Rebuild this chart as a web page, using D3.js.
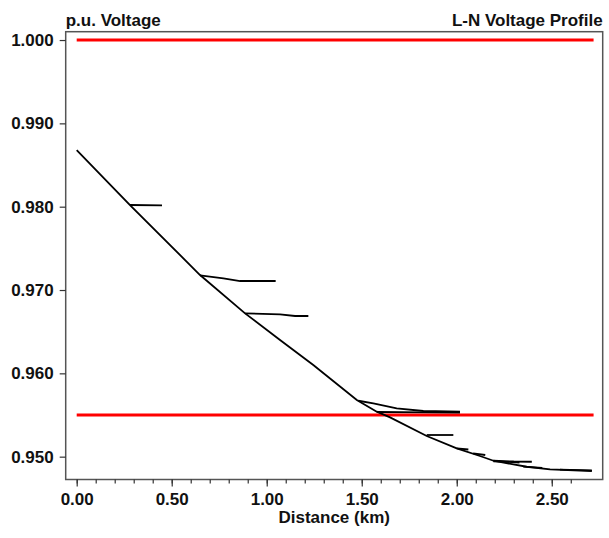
<!DOCTYPE html>
<html>
<head>
<meta charset="utf-8">
<script src="https://cdn.jsdelivr.net/npm/d3@7"></script>
<style>
  html, body { margin: 0; padding: 0; background: #fff; }
  svg text { font-family: "Liberation Sans", Arial, sans-serif; font-weight: bold; fill: #111; }
</style>
</head>
<body>
<div id="chart"></div>
<script>
// ---- Data ----
const xTicks = [0, 0.5, 1.0, 1.5, 2.0, 2.5];
const yTicks = [1.000, 0.990, 0.980, 0.970, 0.960, 0.950];

// Main feeder (trunk) profile: distance km, p.u. voltage
const trunkKm = [0.000, 0.2805, 0.649, 0.886, 1.070, 1.245, 1.474, 1.579, 1.649, 1.842, 2.000, 2.122, 2.193, 2.298, 2.368, 2.491, 2.711];
const trunkV  = [0.9868, 0.9802, 0.97180, 0.96720, 0.96400, 0.96100, 0.95680, 0.95540, 0.95472, 0.95248, 0.95100, 0.95008, 0.94951, 0.94908, 0.94879, 0.94848, 0.94828];

// Lateral branches
const branch1Km = [0.2805, 0.449];          const branch1V = [0.9802, 0.98016];
const branch2Km = [0.649, 0.772, 0.86, 1.047]; const branch2V = [0.97176, 0.9714, 0.97108, 0.97108];
const branch3Km = [0.886, 1.070, 1.149, 1.219]; const branch3V = [0.96720, 0.96708, 0.96688, 0.96688];
const branch4Km = [1.482, 1.561, 1.684, 1.824, 2.017]; const branch4V = [0.95671, 0.9564, 0.9558, 0.95548, 0.95540];
const branch5Km = [1.579, 1.834, 2.017];     const branch5V = [0.95536, 0.95532, 0.95530];
const branch6Km = [1.842, 1.982];            const branch6V = [0.9526, 0.9526];
const branch7Km = [2.000, 2.061];            const branch7V = [0.95100, 0.95086];
const branch8Km = [2.086, 2.150];            const branch8V = [0.95040, 0.95020];
const branch9Km = [2.193, 2.300, 2.395];     const branch9V = [0.94951, 0.94942, 0.94939];
const branch10Km = [2.193, 2.330];           const branch10V = [0.94945, 0.94930];
const branch11Km = [2.350, 2.450];           const branch11V = [0.94880, 0.94866];
const branch12Km = [2.543, 2.711];           const branch12V = [0.94845, 0.94836];

// Voltage limits (red lines)
const limitV = [1.000, 0.955];
const limitKm = [0.0, 2.72];

const branches = [
  [branch1Km, branch1V], [branch2Km, branch2V], [branch3Km, branch3V],
  [branch4Km, branch4V], [branch5Km, branch5V], [branch6Km, branch6V],
  [branch7Km, branch7V], [branch8Km, branch8V], [branch9Km, branch9V],
  [branch10Km, branch10V], [branch11Km, branch11V], [branch12Km, branch12V]
];

// ---- Layout ----
const W = 609, H = 538;
const frame = { left: 65.7, right: 602.7, top: 31.7, bottom: 479.5 };
const FS = "17px";

const svg = d3.select("#chart").append("svg").attr("width", W).attr("height", H);

const x = d3.scaleLinear().domain([-0.0579, 2.768]).range([frame.left, frame.right]);
const y = d3.scaleLinear().domain([0.94726, 1.001]).range([frame.bottom, frame.top]);

// Frame
svg.append("rect")
  .attr("x", frame.left).attr("y", frame.top)
  .attr("width", frame.right - frame.left).attr("height", frame.bottom - frame.top)
  .attr("fill", "none").attr("stroke", "#555").attr("stroke-width", 1.5);

// Y axis
const yAxis = d3.axisLeft(y).tickValues(yTicks).tickFormat(d3.format(".3f")).tickSize(6).tickPadding(6);
const gy = svg.append("g").attr("transform", `translate(${frame.left},0)`).call(yAxis);
gy.select(".domain").remove();
gy.selectAll(".tick line").attr("stroke", "#333").attr("stroke-width", 1.2);
gy.selectAll(".tick text").style("font-size", FS);

// X axis minor ticks
const minor = d3.range(0, 27).map(i => i / 10);
const xMinor = d3.axisBottom(x).tickValues(minor).tickSize(4).tickFormat("");
const gxm = svg.append("g").attr("transform", `translate(0,${frame.bottom})`).call(xMinor);
gxm.select(".domain").remove();
gxm.selectAll(".tick line").attr("stroke", "#333").attr("stroke-width", 1.2);

// X axis major
const xAxis = d3.axisBottom(x).tickValues(xTicks).tickFormat(d3.format(".2f")).tickSize(7).tickPadding(6);
const gx = svg.append("g").attr("transform", `translate(0,${frame.bottom})`).call(xAxis);
gx.select(".domain").remove();
gx.selectAll(".tick line").attr("stroke", "#333").attr("stroke-width", 1.2);
gx.selectAll(".tick text").style("font-size", FS);

// Titles
svg.append("text").attr("x", frame.left).attr("y", 26).style("font-size", FS).text("p.u. Voltage");
svg.append("text").attr("x", frame.right).attr("y", 26).attr("text-anchor", "end").style("font-size", FS).text("L-N Voltage Profile");
svg.append("text").attr("x", (frame.left + frame.right) / 2).attr("y", 523).attr("text-anchor", "middle").style("font-size", FS).text("Distance (km)");

// Limit lines
svg.selectAll(".limit").data(limitV).enter().append("line")
  .attr("class", "limit")
  .attr("x1", x(limitKm[0])).attr("x2", x(limitKm[1]))
  .attr("y1", d => y(d)).attr("y2", d => y(d))
  .attr("stroke", "#ff0000").attr("stroke-width", 3);

// Profile lines
const line = d3.line().x(d => x(d[0])).y(d => y(d[1]));
const toPts = (ks, vs) => ks.map((k, i) => [k, vs[i]]);

branches.forEach(([ks, vs]) => {
  svg.append("path").attr("d", line(toPts(ks, vs)))
    .attr("fill", "none").attr("stroke", "#000").attr("stroke-width", 1.8);
});
svg.append("path").attr("d", line(toPts(trunkKm, trunkV)))
  .attr("fill", "none").attr("stroke", "#000").attr("stroke-width", 1.8);
</script>
</body>
</html>
